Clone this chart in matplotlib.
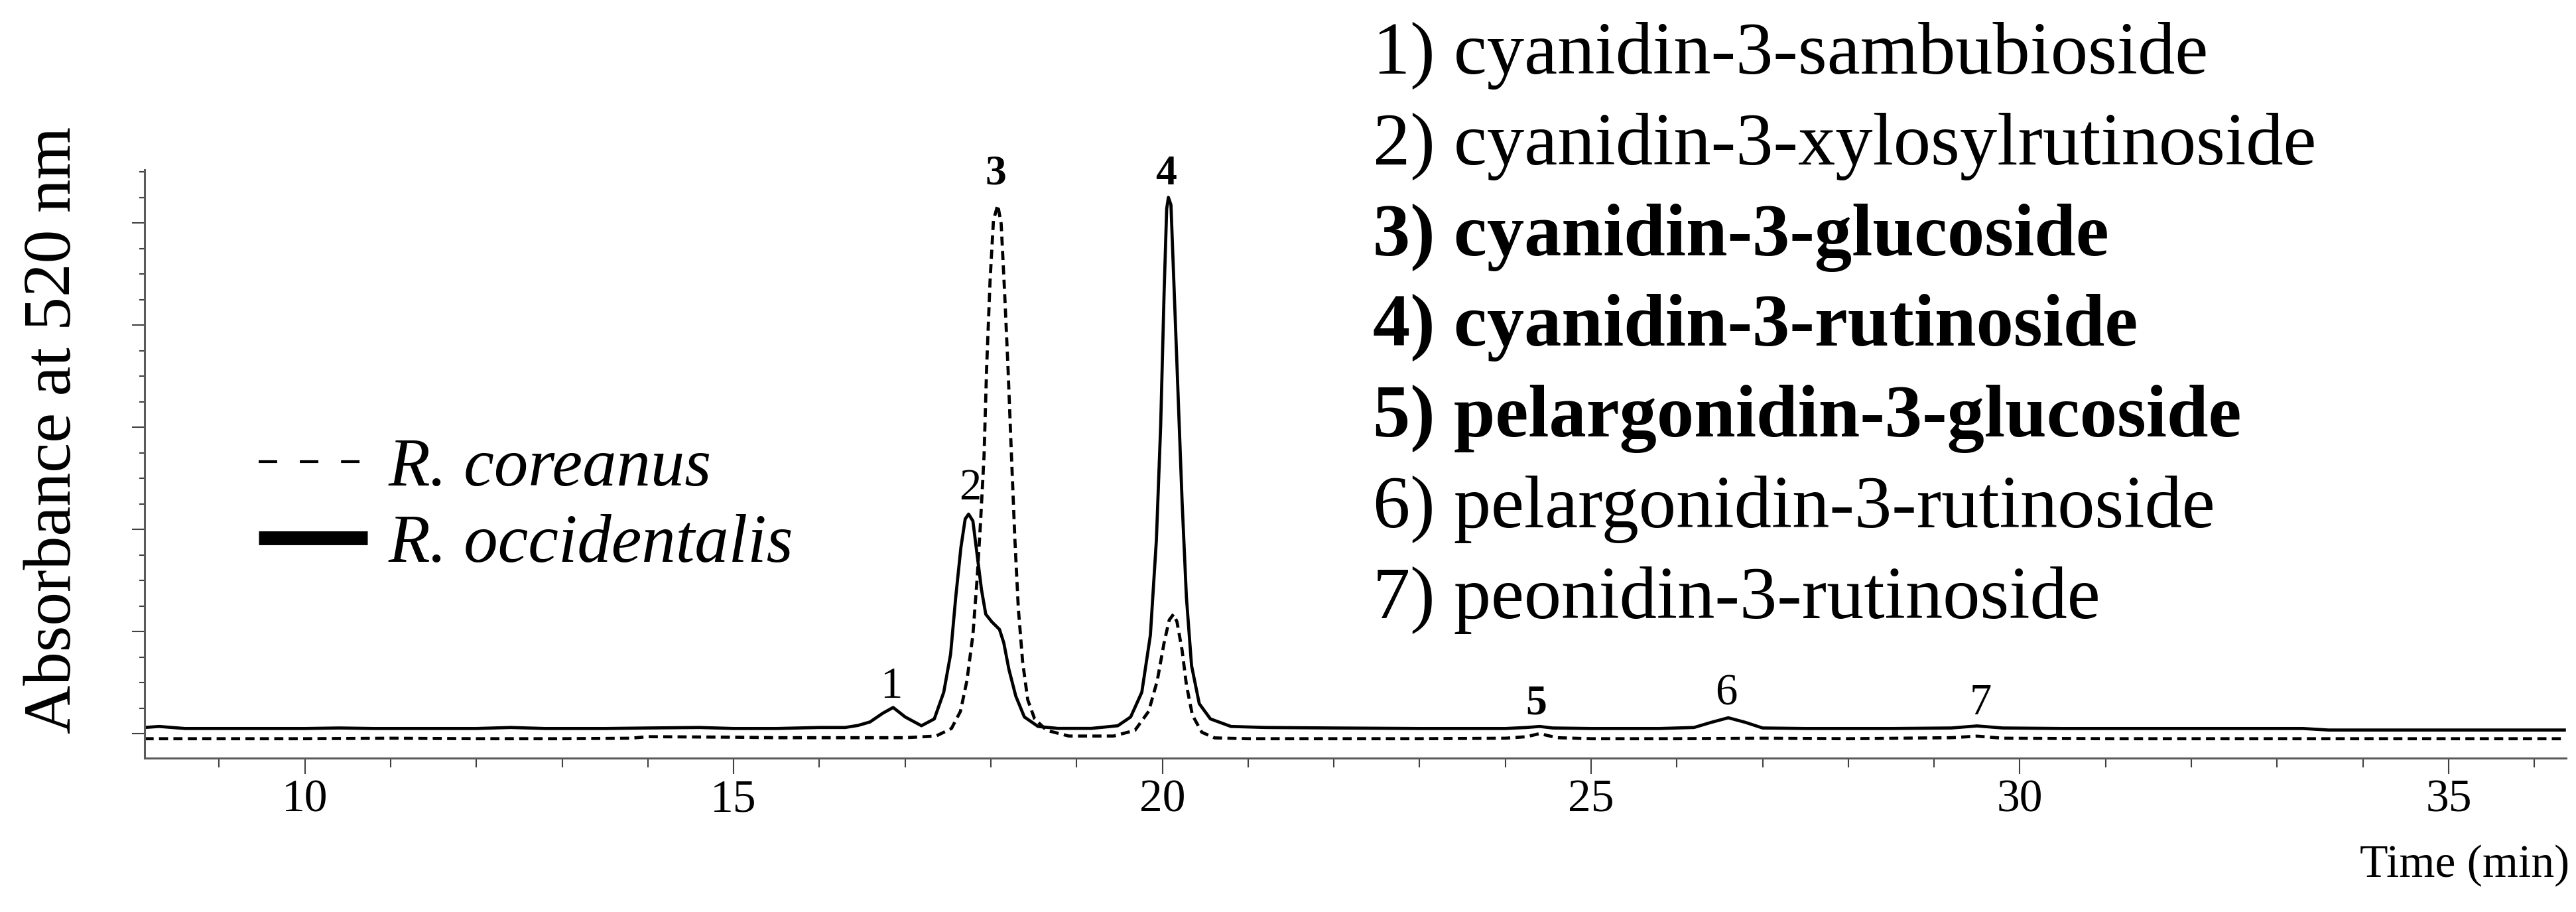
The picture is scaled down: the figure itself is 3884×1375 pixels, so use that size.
import matplotlib
matplotlib.use("Agg")
import matplotlib.pyplot as plt
from matplotlib.lines import Line2D
from matplotlib.ticker import MultipleLocator, NullFormatter

# ---------------- data ----------------
series_names = ["R. coreanus", "R. occidentalis"]

time_occ = [8.13, 8.3, 8.6, 9.0, 9.5, 10.0, 10.4, 10.8, 11.5, 12.0, 12.4, 12.8, 13.5,
            14.0, 14.6, 15.0, 15.5, 16.0, 16.3, 16.45, 16.59, 16.74, 16.86, 17.0, 17.19,
            17.34, 17.45, 17.53, 17.59, 17.65, 17.70, 17.74, 17.79, 17.84, 17.89, 17.94,
            18.01, 18.10, 18.15, 18.21, 18.29, 18.39, 18.55, 18.78, 19.17, 19.48, 19.63,
            19.76, 19.86, 19.93, 19.98, 20.02, 20.05, 20.07, 20.10, 20.13, 20.18, 20.23,
            20.28, 20.34, 20.43, 20.56, 20.8, 21.2, 22.0, 23.0, 24.0, 24.25, 24.4, 24.55,
            25.0, 25.8, 26.2, 26.4, 26.6, 26.8, 27.0, 27.5, 28.5, 29.2, 29.5, 29.8, 30.5,
            31.5, 32.5, 33.3, 33.6, 34.5, 35.5, 36.35]
abs_occ = [0.06, 0.07, 0.05, 0.05, 0.05, 0.05, 0.055, 0.05, 0.05, 0.05, 0.06, 0.05, 0.05,
           0.055, 0.06, 0.05, 0.05, 0.06, 0.06, 0.08, 0.114, 0.20, 0.256, 0.163, 0.077,
           0.144, 0.405, 0.778, 1.337, 1.821, 2.101, 2.149, 2.082, 1.747, 1.411, 1.169,
           1.095, 1.02, 0.89, 0.629, 0.368, 0.163, 0.07, 0.051, 0.051, 0.077, 0.163,
           0.405, 0.964, 1.896, 3.014, 4.318, 5.138, 5.25, 5.176, 4.505, 3.387, 2.269,
           1.337, 0.666, 0.293, 0.144, 0.07, 0.06, 0.055, 0.05, 0.05, 0.06, 0.07, 0.055,
           0.05, 0.05, 0.06, 0.11, 0.155, 0.11, 0.055, 0.05, 0.05, 0.055, 0.075, 0.055, 0.05,
           0.05, 0.05, 0.05, 0.035, 0.035, 0.035, 0.035]

time_cor = [8.13, 9.0, 10.0, 11.0, 12.0, 13.0, 13.8, 14.0, 15.0, 15.5, 16.0, 17.0, 17.36,
            17.54, 17.645, 17.72, 17.79, 17.84, 17.88, 17.92, 17.95, 17.99, 18.03, 18.08,
            18.12, 18.16, 18.20, 18.24, 18.28, 18.32, 18.37, 18.43, 18.51, 18.65, 18.91,
            19.43, 19.68, 19.84, 19.94, 20.02, 20.08, 20.13, 20.17, 20.23, 20.28, 20.35,
            20.46, 20.61, 21.0, 22.0, 23.0, 24.0, 24.25, 24.4, 24.6, 25.0, 26.0, 27.0,
            28.0, 29.2, 29.5, 29.8, 31.0, 33.0, 35.0, 36.35]
abs_cor = [-0.05, -0.05, -0.05, -0.045, -0.05, -0.05, -0.045, -0.03, -0.035, -0.04, -0.04,
           -0.04, -0.024, 0.05, 0.218, 0.517, 0.964, 1.523, 2.082, 2.716, 3.573, 4.43,
           5.027, 5.176, 4.99, 4.318, 3.573, 2.716, 1.896, 1.225, 0.703, 0.33, 0.144,
           0.032, -0.024, -0.024, 0.032, 0.218, 0.517, 0.89, 1.113, 1.169, 1.095, 0.815,
           0.479, 0.181, 0.013, -0.042, -0.05, -0.05, -0.05, -0.045, -0.03, 0.0, -0.04,
           -0.05, -0.05, -0.045, -0.05, -0.04, -0.025, -0.045, -0.05, -0.05, -0.05, -0.05]

peak_ids = ["1", "2", "3", "4", "5", "6", "7"]
peak_label_t = [16.84, 17.76, 18.06, 20.04, 24.36, 26.58, 29.54]
peak_label_y = [0.35, 2.29, 5.38, 5.38, 0.19, 0.28, 0.19]

compounds = ["cyanidin-3-sambubioside",
             "cyanidin-3-xylosylrutinoside",
             "cyanidin-3-glucoside",
             "cyanidin-3-rutinoside",
             "pelargonidin-3-glucoside",
             "pelargonidin-3-rutinoside",
             "peonidin-3-rutinoside"]

xtick_values = [10, 15, 20, 25, 30, 35]

# ---------------- styling ----------------
BOLD_IDS = {"3", "4", "5"}
W, H, DPI = 3884, 1375, 100
plt.rcParams["font.family"] = ["Liberation Serif", "DejaVu Serif"]

fig = plt.figure(figsize=(W / DPI, H / DPI), dpi=DPI)
ax_left, ax_right, ax_top, ax_bot = 218, 3869, 256, 1143
ax = fig.add_axes([ax_left / W, 1 - ax_bot / H,
                   (ax_right - ax_left) / W, (ax_bot - ax_top) / H])

ax.plot(time_cor, abs_cor, color="black", lw=3.4, ls=(0, (2.9, 1.7)),
        solid_joinstyle="round", dash_capstyle="butt")
ax.plot(time_occ, abs_occ, color="black", lw=3.4, solid_joinstyle="round")

ax.set_xlim(8.13, 36.37)
ax.set_ylim(-0.24, 5.52)

for s in ("top", "right"):
    ax.spines[s].set_visible(False)
for s in ("left", "bottom"):
    ax.spines[s].set_color("#5a5a5a")
    ax.spines[s].set_linewidth(2.2)

ax.xaxis.set_major_locator(plt.FixedLocator(xtick_values))
ax.xaxis.set_minor_locator(MultipleLocator(1))
ax.set_xticklabels([str(v) for v in xtick_values])
ax.yaxis.set_major_locator(MultipleLocator(1))
ax.yaxis.set_minor_locator(MultipleLocator(0.25))
ax.yaxis.set_major_formatter(NullFormatter())
ax.tick_params(axis="x", which="major", direction="out", length=17, width=1.5,
               color="#404040", labelsize=50, pad=6)
ax.tick_params(axis="x", which="minor", direction="out", length=10, width=1.5,
               color="#404040")
ax.tick_params(axis="y", which="major", direction="out", length=13.5, width=1.5,
               color="#404040")
ax.tick_params(axis="y", which="minor", direction="out", length=6, width=1.5,
               color="#404040")

# axis titles
fig.text(106 / W, 1 - 648 / H, "Absorbance at 520 nm", rotation=90,
         rotation_mode="anchor", ha="center", va="baseline", fontsize=73)
fig.text(3874 / W, 1 - 1322 / H, "Time (min)", ha="right", va="baseline",
         fontsize=50)

# peak numbers
for pid, tx, ty in zip(peak_ids, peak_label_t, peak_label_y):
    ax.text(tx, ty, pid, ha="center", va="baseline",
            fontsize=46 if pid in BOLD_IDS else 48,
            fontweight="bold" if pid in BOLD_IDS else "normal")

# legend
handles = [Line2D([], [], color="black", lw=3.0, ls=(0, (6.7, 8.2))),
           Line2D([], [], color="black", lw=15, solid_capstyle="butt")]
ax.legend(handles, series_names, loc="upper left",
          bbox_to_anchor=((390 - ax_left) / (ax_right - ax_left),
                          (ax_bot - 660) / (ax_bot - ax_top)),
          frameon=False, borderpad=0, borderaxespad=0, handlelength=1.6,
          handletextpad=0.3, labelspacing=0.2,
          prop={"family": "Liberation Serif", "style": "italic", "size": 74})

# compound list
base0, step = 111, 136.8
for i, (pid, name) in enumerate(zip(peak_ids, compounds)):
    fig.text(2070 / W, 1 - (base0 + i * step) / H, f"{pid}) {name}",
             ha="left", va="baseline", fontsize=81,
             fontweight="bold" if pid in BOLD_IDS else "normal")

fig.savefig("out.png", dpi=DPI)
